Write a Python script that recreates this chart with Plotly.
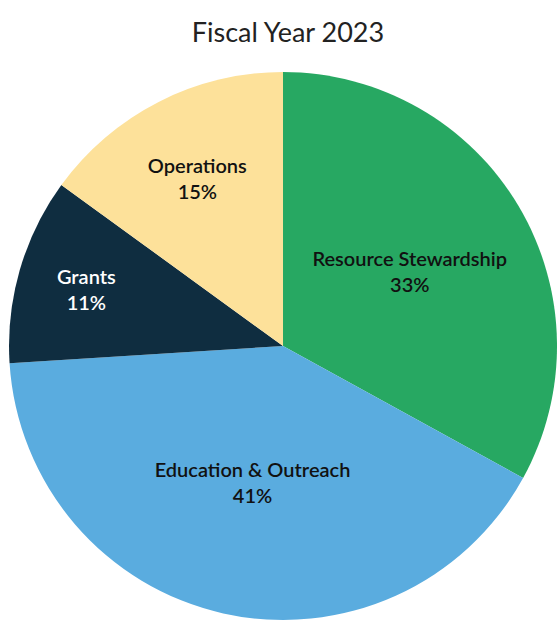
import plotly.graph_objects as go

categories = ["Resource Stewardship", "Education & Outreach", "Grants", "Operations"]
values = [33, 41, 11, 15]
colors = ["#27A862", "#5AACDF", "#0F2D40", "#FDE19A"]
text_colors = ["#111111", "#111111", "#FFFFFF", "#111111"]

fig = go.Figure(
    go.Pie(
        labels=categories,
        values=values,
        sort=False,
        direction="clockwise",
        rotation=0,
        marker=dict(colors=colors, line=dict(width=0)),
        texttemplate="%{label}<br>%{value}%",
        textposition="inside",
        insidetextorientation="horizontal",
        textfont=dict(family="Lato", size=20, color=text_colors, weight=600),
        hoverinfo="label+percent",
        showlegend=False,
        domain=dict(x=[0.0162, 1.0], y=[0.0048, 0.8844]),
    )
)

fig.update_layout(
    width=557,
    height=623,
    margin=dict(l=0, r=0, t=0, b=0),
    paper_bgcolor="white",
    plot_bgcolor="white",
    title=dict(
        text="Fiscal Year 2023",
        x=0.517,
        xanchor="center",
        y=0.947,
        yanchor="middle",
        font=dict(family="Lato", size=27, color="#222222"),
    ),
)

fig.write_html("out.html")
